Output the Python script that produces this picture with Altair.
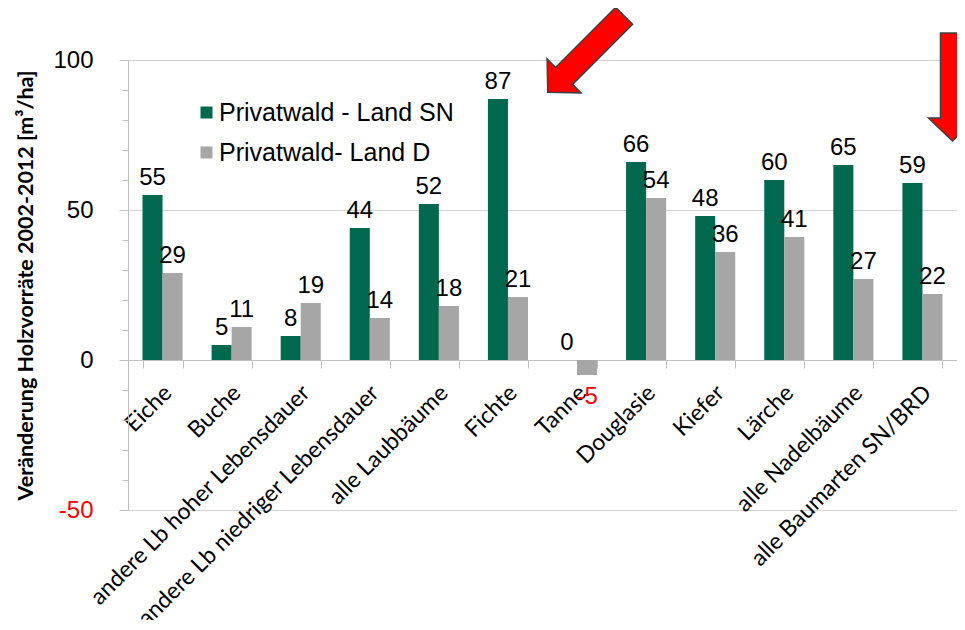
import altair as alt
import pandas as pd

categories = ["Eiche", "Buche", "andere Lb hoher Lebensdauer", "andere Lb niedriger Lebensdauer",
              "alle Laubbäume", "Fichte", "Tanne", "Douglasie", "Kiefer", "Lärche",
              "alle Nadelbäume", "alle Baumarten SN/BRD"]
series_names = ["Privatwald - Land SN", "Privatwald- Land D"]
sn_values = [55, 5, 8, 44, 52, 87, 0, 66, 48, 60, 65, 59]
d_values = [29, 11, 19, 14, 18, 21, -5, 54, 36, 41, 27, 22]
colors = ["#00684F", "#A6A6A6"]
y_label_values = [-50, 0, 50, 100]
y_minor_values = list(range(-50, 101, 10))

# annotation arrows (category, value position)
arrow_cats = ["Fichte", "alle Baumarten SN/BRD"]
arrow_vals = [102, 91]

rows = []
for c, a, b in zip(categories, sn_values, d_values):
    rows.append({"category": c, "series": series_names[0], "value": a})
    rows.append({"category": c, "series": series_names[1], "value": b})
df = pd.DataFrame(rows)
arrows_df = pd.DataFrame({"category": arrow_cats, "value": arrow_vals})

ARROW = "M -0.222 -1 L 0.222 -1 L 0.222 0.574 L 0.444 0.574 L 0 1 L -0.444 0.574 L -0.222 0.574 Z"

x_enc = alt.X("category:N", sort=categories,
              scale=alt.Scale(paddingInner=0.42, paddingOuter=0.21),
              axis=alt.Axis(title=None, labelAngle=315, labelAlign="right", labelBaseline="middle",
                            labelFont="Lato", labelFontSize=23, labelColor="black",
                            labelPadding=21, labelOffset=5, labelLimit=500, labelOverlap=False,
                            tickSize=8, tickColor="#BFBFBF", domainColor="#BFBFBF",
                            tickBand="extent", offset=-150, grid=False))

y_scale = alt.Scale(domain=[-50, 100], nice=False, zero=False)

y_main = alt.Y("value:Q", scale=y_scale,
               axis=alt.Axis(orient="left", values=y_label_values,
                             title="Veränderung Holzvorräte 2002-2012 [m³/ha]",
                             titleFont="Lato", titleFontSize=21.5, titleFontWeight="bold",
                             titleColor="black", titleX=-102, titleY=225, titleAngle=270,
                             titleBaseline="middle", titleAlign="center",
                             labelExpr="'' + datum.value",
                             labelFont="Liberation Sans", labelFontSize=24,
                             labelColor={"condition": {"test": "datum.value < 0", "value": "#FF0000"},
                                         "value": "black"},
                             labelPadding=26, labelOverlap=False, labelFlush=False,
                             tickSize=9, tickColor="#BFBFBF", domainColor="#BFBFBF",
                             grid=True, gridColor="#D4D4D4", gridWidth=1))

y_minor = alt.Y("value:Q", scale=y_scale,
                axis=alt.Axis(orient="left", values=y_minor_values, labels=False, grid=False,
                              domain=False, ticks=True, tickSize=6, tickColor="#BFBFBF",
                              title=None))

y_none = alt.Y("value:Q", scale=y_scale, axis=None)

xoff = alt.XOffset("series:N", sort=series_names)

bars = alt.Chart(df).mark_bar().encode(
    x=x_enc, y=y_main, xOffset=xoff,
    color=alt.Color("series:N", sort=series_names,
                    scale=alt.Scale(domain=series_names, range=colors),
                    legend=alt.Legend(orient="none", legendX=66, legendY=40, title=None,
                                      labelFont="Liberation Sans", labelFontSize=25,
                                      labelColor="black", symbolType="square", symbolSize=144,
                                      symbolStrokeWidth=0, rowPadding=14, labelOffset=0,
                                      padding=0, labelLimit=500)),
)

pos_labels = alt.Chart(df).transform_filter("datum.value >= 0").transform_calculate(
    lbl="'' + datum.value"
).mark_text(
    font="Liberation Sans", fontSize=24, baseline="alphabetic", dy=-10, color="black"
).encode(x=x_enc, y=y_minor, xOffset=xoff, text="lbl:N")

neg_labels = alt.Chart(df).transform_filter("datum.value < 0").transform_calculate(
    lbl="'' + datum.value"
).mark_text(
    font="Liberation Sans", fontSize=24, baseline="top", dy=10, color="#FF0000"
).encode(x=x_enc, y=y_none, xOffset=xoff, text="lbl:N")

arrow1 = alt.Chart(arrows_df).transform_filter(alt.datum.category == arrow_cats[0]).mark_point(
    shape=ARROW, size=11664, filled=True, fill="#FF0000", stroke="#404040", strokeWidth=1.5,
    opacity=1, angle=45, xOffset=78
).encode(x=x_enc, y=y_none)

arrow2 = alt.Chart(arrows_df).transform_filter(alt.datum.category == arrow_cats[1]).mark_point(
    shape=ARROW, size=11664, filled=True, fill="#FF0000", stroke="#404040", strokeWidth=1.5,
    opacity=1, angle=0, xOffset=30
).encode(x=x_enc, y=y_none)

chart = alt.layer(bars, pos_labels, neg_labels, arrow1, arrow2).resolve_axis(
    y="independent"
).properties(
    width=829, height=450,
    autosize=alt.AutoSizeParams(type="none"),
    padding={"left": 120, "top": 52, "right": 0, "bottom": 110},
    background="white",
).configure_view(strokeWidth=0)

chart.save("out.html", embed_options={"renderer": "svg", "actions": False})
